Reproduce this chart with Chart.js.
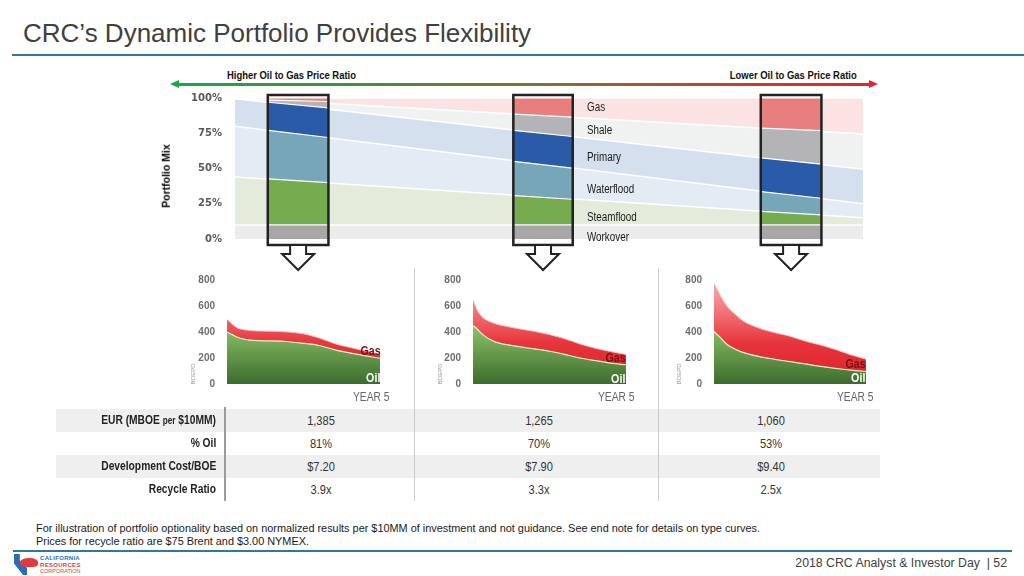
<!DOCTYPE html>
<html>
<head>
<meta charset="utf-8">
<script src="https://cdn.jsdelivr.net/npm/chart.js@4.4.1/dist/chart.umd.min.js"></script>
<style>
  body { margin: 0; width: 1024px; height: 576px; position: relative; overflow: hidden; background: #fff;
         font-family: "Liberation Sans", sans-serif; }
  .t { position: absolute; white-space: nowrap; line-height: 1; }
  .n { transform: scaleX(0.82); transform-origin: 0 50%; }
  .nr { transform: scaleX(0.82); transform-origin: 100% 50%; }
  canvas { position: absolute; }
  .vline { position: absolute; width: 1px; background: #cacaca; }
  .band { position: absolute; left: 56px; width: 824px; height: 23px; background: #efefef; }
  .lbl { position: absolute; right: 808px; font-weight: bold; font-size: 12.5px; color: #222; line-height: 23px; white-space: nowrap;
         transform: scaleX(0.82); transform-origin: 100% 50%; }
  .val { position: absolute; width: 120px; margin-left: -60px; text-align: center; font-size: 13.5px; color: #333; line-height: 23px;
         transform: scaleX(0.82); }
  .rot { position: absolute; white-space: nowrap; transform: translate(-50%, -50%) rotate(-90deg); line-height: 1; }
</style>
</head>
<body>

<div class="t" style="left:23px; top:20px; font-size:26px; color:#404040;">CRC’s Dynamic Portfolio Provides Flexibility</div>
<div style="position:absolute; left:12px; top:54px; width:1012px; height:2px; background:#2b7a9c;"></div>

<!-- price ratio arrow -->
<div class="t n" style="left:227px; top:70px; font-weight:bold; font-size:11.5px; color:#111;">Higher Oil to Gas Price Ratio</div>
<div class="t nr" style="right:167px; top:70px; font-weight:bold; font-size:11.5px; color:#111;">Lower Oil to Gas Price Ratio</div>
<div style="position:absolute; left:177px; top:83px; width:694px; height:3px;
     background:linear-gradient(to right,#18a84a 0%,#4f8a3e 30%,#8a6a3a 55%,#c4402f 80%,#e8222a 100%);"></div>
<div style="position:absolute; left:170px; top:80px; width:0; height:0; border-top:4.5px solid transparent; border-bottom:4.5px solid transparent; border-right:9px solid #18a84a;"></div>
<div style="position:absolute; left:869px; top:80px; width:0; height:0; border-top:4.5px solid transparent; border-bottom:4.5px solid transparent; border-left:9px solid #e8222a;"></div>

<canvas id="mix" width="735" height="205" style="left:150px; top:70px;"></canvas>
<div class="rot" style="left:166px; top:176px; font-weight:bold; font-size:10.5px; color:#000;">Portfolio Mix</div>

<div class="t n" style="left:587px; top:101px; font-size:12px; color:#1a1a1a;">Gas</div>
<div class="t n" style="left:587px; top:124px; font-size:12px; color:#1a1a1a;">Shale</div>
<div class="t n" style="left:587px; top:151px; font-size:12px; color:#1a1a1a;">Primary</div>
<div class="t n" style="left:587px; top:183px; font-size:12px; color:#1a1a1a;">Waterflood</div>
<div class="t n" style="left:587px; top:211px; font-size:12px; color:#1a1a1a;">Steamflood</div>
<div class="t n" style="left:587px; top:231px; font-size:12px; color:#1a1a1a;">Workover</div>

<!-- production panels -->
<canvas id="p1" width="210" height="145" style="left:180px; top:262px;"></canvas>
<canvas id="p2" width="210" height="145" style="left:426px; top:262px;"></canvas>
<canvas id="p3" width="209" height="145" style="left:667px; top:262px;"></canvas>

<div class="rot" style="left:193px; top:374px; font-size:6px; color:#9a9a9a;">BOEPD</div>
<div class="rot" style="left:440px; top:374px; font-size:6px; color:#9a9a9a;">BOEPD</div>
<div class="rot" style="left:679px; top:374px; font-size:6px; color:#9a9a9a;">BOEPD</div>

<div class="t nr" style="right:643px; top:344px; font-weight:bold; font-size:13px; color:#7a1014;">Gas</div>
<div class="t nr" style="right:644px; top:371px; font-weight:bold; font-size:13px; color:#fff;">Oil</div>
<div class="t nr" style="right:398px; top:351px; font-weight:bold; font-size:13px; color:#7a1014;">Gas</div>
<div class="t nr" style="right:399px; top:372px; font-weight:bold; font-size:13px; color:#fff;">Oil</div>
<div class="t nr" style="right:158px; top:357px; font-weight:bold; font-size:13px; color:#7a1014;">Gas</div>
<div class="t nr" style="right:159px; top:371px; font-weight:bold; font-size:13px; color:#fff;">Oil</div>

<div class="t nr" style="right:635px; top:391px; font-size:12.5px; color:#666;">YEAR 5</div>
<div class="t nr" style="right:390px; top:391px; font-size:12.5px; color:#666;">YEAR 5</div>
<div class="t nr" style="right:151px; top:391px; font-size:12.5px; color:#666;">YEAR 5</div>

<div class="vline" style="left:414px; top:268px; height:233px;"></div>
<div class="vline" style="left:658px; top:268px; height:233px;"></div>

<!-- metrics table -->
<div class="band" style="top:409px;"></div>
<div class="band" style="top:455px;"></div>
<div class="vline" style="left:224px; top:407px; height:94px; background:#9a9a9a; width:1.5px;"></div>
<div class="vline" style="left:414px; top:409px; height:92px;"></div>
<div class="vline" style="left:658px; top:409px; height:92px;"></div>
<div id="table"></div>

<div class="t" style="left:36px; top:523px; font-size:10.9px; color:#1a1a1a;">For illustration of portfolio optionality based on normalized results per $10MM of investment and not guidance. See end note for details on type curves.</div>
<div class="t" style="left:36px; top:536px; font-size:10.9px; color:#1a1a1a;">Prices for recycle ratio are $75 Brent and $3.00 NYMEX.</div>
<div style="position:absolute; left:13px; top:550px; width:999px; height:1.5px; background:#2f77a6;"></div>

<!-- logo -->
<div style="position:absolute; left:14px; top:554px; width:13px; height:21px; background:#2a6fb5; clip-path:polygon(0 0,45% 0,45% 30%,100% 65%,100% 100%,70% 100%,0 45%);"></div>
<div style="position:absolute; left:20px; top:558px; width:18px; height:9px; background:#e23a3f; border-radius:50% 45% 30% 40%;"></div>
<div class="t" style="left:40px; top:555px; font-weight:bold; font-size:6px; color:#2a6fb5; letter-spacing:0.3px;">CALIFORNIA</div>
<div class="t" style="left:40px; top:562px; font-weight:bold; font-size:6px; color:#e23a3f; letter-spacing:0.3px;">RESOURCES</div>
<div class="t" style="left:40px; top:568.5px; font-size:5.5px; color:#e23a3f;">CORPORATION</div>

<div class="t" style="right:17px; top:557px; font-size:12.3px; color:#404040;">2018 CRC Analyst &amp; Investor Day &nbsp;| 52</div>

<script>
// ---- portfolio mix (share of capital, %) ----
const mixLayers = ['Workover', 'Steamflood', 'Waterflood', 'Primary', 'Shale', 'Gas'];
const bandEdges = [0, 100];
const bandShareStart = [10, 34, 36, 19.5, 0.5, 0];
const bandShareEnd = [10, 5, 10, 24.5, 25, 25.5];
const boxEdges = [[5.3, 14.8], [44.4, 53.7], [83.8, 93.3]];
const boxShareStart = [
    [10, 32.7, 34.3, 20, 1.5, 1.5],
    [10, 20.8, 24.2, 22, 11.6, 11.4],
    [10, 9.6, 14, 23.9, 21.2, 21.3]];
const boxShareEnd = [
    [10, 30, 32, 21, 4.5, 2.5],
    [10, 18.2, 22, 22.5, 13.8, 13.5],
    [10, 7.1, 11.8, 24.2, 23.7, 23.2]];
const lightColors = ['#ececed', '#e3ecda', '#e3ebf4', '#d5e0ef', '#f0f1f1', '#fbe3e3'];
const boxColors = ['#a8a6a7', '#77ab4f', '#78a6b9', '#2a5ba9', '#b4b4b6', '#e97e7e'];
const mixTicks = [0, 25, 50, 75, 100];

// ---- production profiles (BOEPD), months 0..60 ----
const months = [0, 1, 2, 4, 6, 9, 12, 18, 24, 30, 36, 42, 48, 54, 60];
const oil1 = [399, 390, 380, 360, 348, 337, 333, 331, 325, 313, 296, 265, 240, 218, 198];
const gas1 = [98, 90, 82, 72, 72, 75, 75, 75, 75, 73, 59, 47, 42, 37, 30];
const oil2 = [449, 435, 415, 378, 350, 322, 307, 287, 270, 252, 228, 200, 180, 160, 148];
const gas2 = [196, 165, 140, 130, 135, 140, 141, 138, 135, 128, 120, 108, 95, 90, 79];
const oil3 = [406, 385, 368, 325, 292, 262, 240, 210, 190, 172, 155, 135, 120, 107, 96];
const gas3 = [370, 355, 332, 305, 286, 263, 238, 218, 205, 196, 175, 165, 145, 118, 95];

// ---- table ----
const rowLabels = ['EUR (MBOE <span style="font-size:10px">per</span> $10MM)', '% Oil', 'Development Cost/BOE', 'Recycle Ratio'];
const caseEur = ['1,385', '1,265', '1,060'];
const caseOil = ['81%', '70%', '53%'];
const caseCost = ['$7.20', '$7.90', '$9.40'];
const caseRecycle = ['3.9x', '3.3x', '2.5x'];
const caseCenters = [321, 539, 771];

const mixSets = [];
mixLayers.forEach((name, i) => {
    mixSets.push({
        label: name,
        stack: 'band',
        order: 2,
        data: bandEdges.map((x, k) => ({x: x, y: k === 0 ? bandShareStart[i] : bandShareEnd[i]})),
        backgroundColor: lightColors[i],
        borderColor: '#ffffff',
        borderWidth: 1.5,
        pointRadius: 0,
        fill: i === 0 ? 'origin' : '-1'
    });
});
boxEdges.forEach((edges, b) => {
    mixLayers.forEach((name, i) => {
        mixSets.push({
            label: name,
            stack: 'box' + b,
            order: 1,
            data: edges.map((x, k) => ({x: x, y: k === 0 ? boxShareStart[b][i] : boxShareEnd[b][i]})),
            backgroundColor: boxColors[i],
            borderColor: '#ffffff',
            borderWidth: 1.2,
            pointRadius: 0,
            fill: i === 0 ? 'origin' : '-1'
        });
    });
});

// black frames round the three cases, with the hollow arrow below
const boxFrames = {
    id: 'boxFrames',
    afterDatasetsDraw(chart) {
        const {ctx, scales: {x, y}} = chart;
        ctx.save();
        ctx.strokeStyle = '#222';
        boxEdges.forEach(edges => {
            const l = x.getPixelForValue(edges[0]) - 0.5;
            const r = x.getPixelForValue(edges[1]) + 0.5;
            const t = y.getPixelForValue(100) - 3;
            const b = y.getPixelForValue(0) + 6;
            const cx = (l + r) / 2;
            ctx.lineWidth = 2.5;
            ctx.strokeRect(l, t, r - l, b - t);
            ctx.beginPath();
            ctx.moveTo(cx - 8, b + 1);
            ctx.lineTo(cx - 8, b + 9);
            ctx.lineTo(cx - 16, b + 9);
            ctx.lineTo(cx, b + 25);
            ctx.lineTo(cx + 16, b + 9);
            ctx.lineTo(cx + 8, b + 9);
            ctx.lineTo(cx + 8, b + 1);
            ctx.fillStyle = '#fff';
            ctx.fill();
            ctx.lineWidth = 2;
            ctx.stroke();
        });
        ctx.restore();
    }
};

new Chart(document.getElementById('mix'), {
    type: 'line',
    data: {datasets: mixSets},
    plugins: [boxFrames],
    options: {
        responsive: false,
        animation: false,
        layout: {padding: {top: 28, right: 22, bottom: 36, left: 0}},
        plugins: {legend: {display: false}, tooltip: {enabled: false}},
        elements: {line: {tension: 0}},
        scales: {
            x: {type: 'linear', min: 0, max: 100, display: false},
            y: {
                stacked: true,
                min: 0,
                max: 100,
                afterFit: s => { s.width = 85; },
                afterBuildTicks: s => { s.ticks = mixTicks.map(v => ({value: v})); },
                grid: {display: false, drawTicks: false},
                border: {display: false},
                ticks: {
                    padding: 13,
                    color: '#5a5a5a',
                    font: {family: 'DejaVu Sans', weight: 'bold', size: 10},
                    callback: v => v + '%'
                }
            }
        }
    }
});

function oilFill(context) {
    const area = context.chart.chartArea;
    if (!area) return '#7cb35a';
    const g = context.chart.ctx.createLinearGradient(0, area.top, 0, area.bottom);
    g.addColorStop(0, '#b5dd9b');
    g.addColorStop(0.45, '#8cc168');
    g.addColorStop(1, '#3c6c2d');
    return g;
}

function gasFill(context) {
    const area = context.chart.chartArea;
    if (!area) return '#e8424a';
    const g = context.chart.ctx.createLinearGradient(0, area.top, 0, area.bottom);
    g.addColorStop(0, '#f8b4b5');
    g.addColorStop(0.3, '#f27478');
    g.addColorStop(0.6, '#e6363c');
    g.addColorStop(1, '#dc1f27');
    return g;
}

function makePanel(id, oil, gas) {
    new Chart(document.getElementById(id), {
        type: 'line',
        data: {
            datasets: [{
                label: 'Oil',
                data: months.map((m, i) => ({x: m, y: oil[i]})),
                backgroundColor: oilFill,
                borderColor: '#eef0cf',
                borderWidth: 1.2,
                pointRadius: 0,
                fill: 'origin'
            }, {
                label: 'Gas',
                data: months.map((m, i) => ({x: m, y: gas[i]})),
                backgroundColor: gasFill,
                borderColor: '#f6c0c0',
                borderWidth: 1,
                pointRadius: 0,
                fill: '-1'
            }]
        },
        options: {
            responsive: false,
            animation: false,
            layout: {padding: {top: 10, right: 10, bottom: 23, left: 0}},
            plugins: {legend: {display: false}, tooltip: {enabled: false}},
            elements: {line: {tension: 0.3}},
            scales: {
                x: {type: 'linear', min: 0, max: 60, display: false},
                y: {
                    stacked: true,
                    min: 0,
                    max: 800,
                    afterFit: s => { s.width = 47; },
                    grid: {display: false, drawTicks: false},
                    border: {display: false},
                    ticks: {
                        stepSize: 200,
                        padding: 12,
                        color: '#6d6d6d',
                        font: {family: 'Liberation Sans', weight: 'bold', size: 10}
                    }
                }
            }
        }
    });
}

makePanel('p1', oil1, gas1);
makePanel('p2', oil2, gas2);
makePanel('p3', oil3, gas3);

// table rows
const rows = [caseEur, caseOil, caseCost, caseRecycle];
let html = '';
rows.forEach((vals, r) => {
    const top = 409 + r * 23;
    html += '<div class="lbl" style="top:' + top + 'px">' + rowLabels[r] + '</div>';
    vals.forEach((v, c) => {
        html += '<div class="val" style="top:' + top + 'px; left:' + caseCenters[c] + 'px">' + v + '</div>';
    });
});
document.getElementById('table').innerHTML = html;
</script>
</body>
</html>
